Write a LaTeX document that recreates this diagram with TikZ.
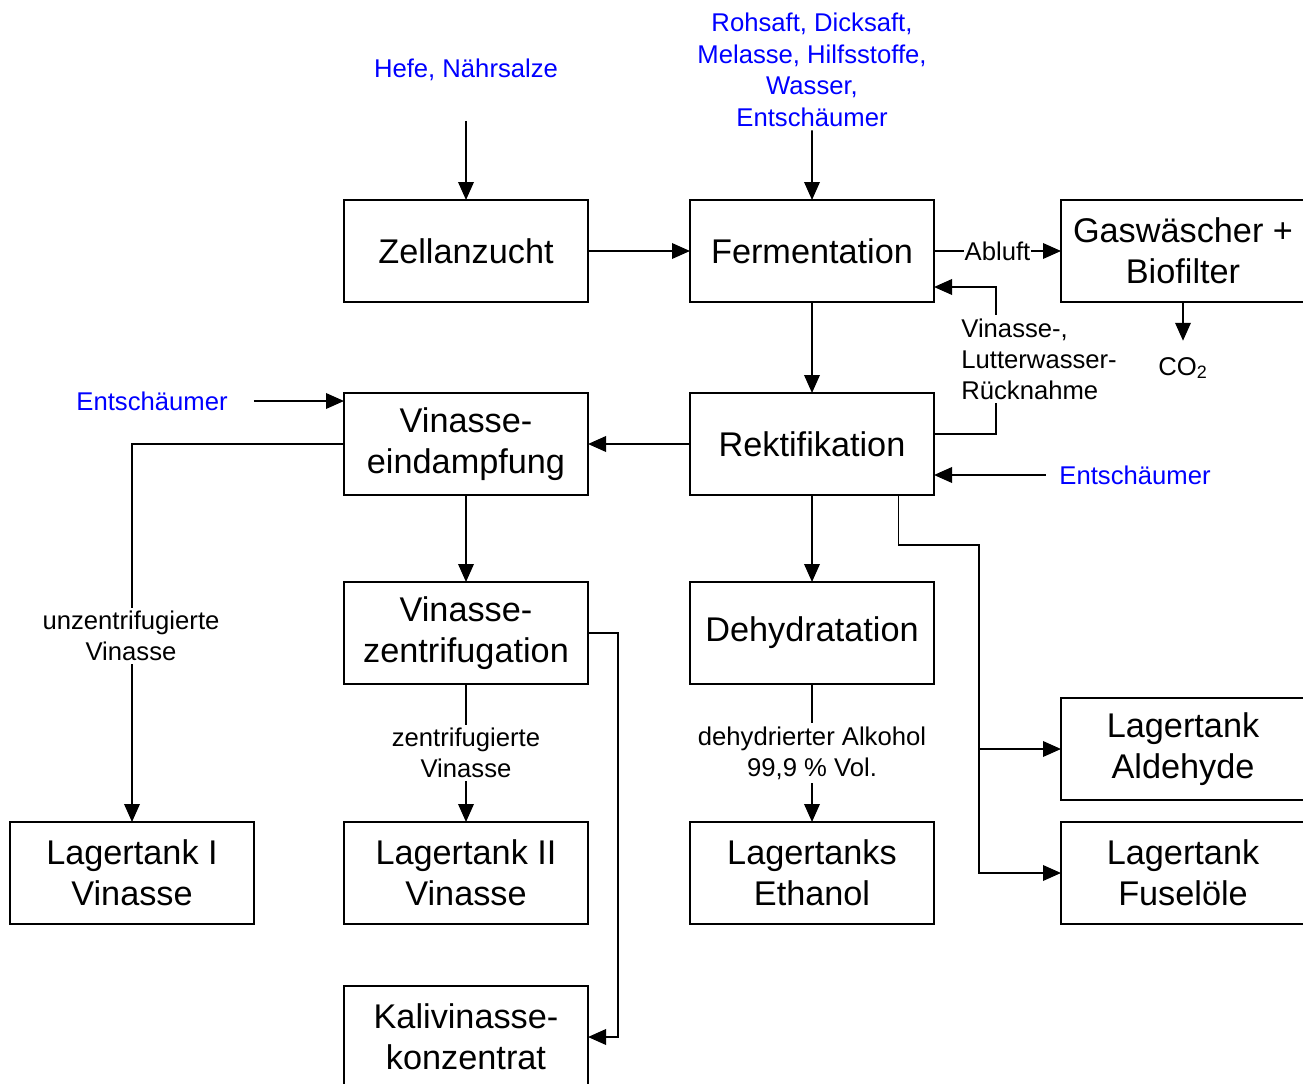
\documentclass[tikz,border=0pt]{standalone}
\usepackage{fontspec}
\setmainfont{Liberation Sans}
\usepackage{tikz}
\usetikzlibrary{positioning, arrows.meta}
\tikzset{
    stage/.style={rectangle, draw=black, line width=1.1pt, fill=white, align=center, minimum width=4.88cm, minimum height=2.04cm, inner sep=2pt, outer sep=0pt, font=\fontsize{19.5}{23.3}\selectfont},
    feed/.style={align=center, text=blue, inner sep=2pt, font=\fontsize{14.6}{17.9}\selectfont},
    note/.style={align=center, fill=white, inner sep=1pt, font=\fontsize{14.6}{17.6}\selectfont},
    arrow/.style={-{Triangle[length=0.36cm, width=0.31cm]}, line width=1.1pt}
}

\begin{document}
\begin{tikzpicture}
        \useasboundingbox (0,0) rectangle (26.06,-21.68);

        % Process stages
        \node[stage] (Zell) at (9.32,-5.02) {Zellanzucht};
        \node[stage, right=2.04cm of Zell] (Ferm) {Fermentation};
        \node[stage, right=2.54cm of Ferm] (Gas) {Gaswäscher +\\Biofilter};
        \node[stage, below=1.82cm of Ferm] (Rekt) {Rektifikation};
        \node[stage, left=2.04cm of Rekt] (Eind) {Vinasse-\\eindampfung};
        \node[stage, below=1.74cm of Eind] (Zentr) {Vinasse-\\zentrifugation};
        \node[stage, below=1.74cm of Rekt] (Dehyd) {Dehydratation};

        % Tanks
        \node[stage, below=2.76cm of Zentr] (LagerII) {Lagertank II\\Vinasse};
        \node[stage, left=1.8cm of LagerII] (LagerI) {Lagertank I\\Vinasse};
        \node[stage, below=2.76cm of Dehyd] (Ethanol) {Lagertanks\\Ethanol};
        \node[stage, right=2.54cm of Ethanol] (Fusel) {Lagertank\\Fuselöle};
        \node[stage, above=0.44cm of Fusel] (Aldeh) {Lagertank\\Aldehyde};
        \node[stage, below=1.24cm of LagerII] (Kali) {Kalivinasse-\\konzentrat};

        % Inputs
        \node[feed] (Hefe) at (9.32,-1.40) {Hefe, Nährsalze};
        \node[feed] (Rohsaft) at (16.24,-1.40) {Rohsaft, Dicksaft,\\Melasse, Hilfsstoffe,\\Wasser,\\Entschäumer};
        \node[feed] (EntsL) at (3.04,-8.02) {Entschäumer};
        \node[feed] (EntsR) at (22.70,-9.50) {Entschäumer};
        \node[font=\fontsize{14.6}{17.6}\selectfont, inner sep=2pt] (CO2) at (23.66,-7.36) {CO\textsubscript{2}};

        % Connections
        \draw[arrow] ([yshift=-0.72cm]Hefe.south) -- (Zell);
        \draw[arrow] (Rohsaft) -- (Ferm);
        \draw[arrow] (Zell) -- (Ferm);
        \draw[arrow] (Ferm) -- node[note, inner sep=0.5pt] (Abluft) {Abluft} (Gas);
        \draw[arrow] (Gas) -- ([yshift=0.25cm]CO2.north);
        \draw[arrow] (Ferm) -- (Rekt);

        % Recycle to fermentation
        \draw[arrow] ([yshift=0.2cm]Rekt.east) -- ++(1.24,0) |- ([yshift=-0.72cm]Ferm.east);
        \node[note, align=left, anchor=west, inner sep=2pt] (Rueck) at (19.15,-7.18) {Vinasse-,\\Lutterwasser-\\Rücknahme};

        \draw[arrow] (EntsR.west) ++(-0.2,0) -- (EntsR.west -| Rekt.east);
        \draw[arrow] (EntsL.east) ++(0.45,0) -- (EntsL.east -| Eind.west);
        \draw[arrow] (Rekt) -- (Eind);

        % Vinasse line
        \draw[arrow] (Eind.west) -| (LagerI.north);
        \node[note, inner sep=2pt] (Unzentr) at (2.62,-12.72) {unzentrifugierte\\Vinasse};
        \draw[arrow] (Eind) -- (Zentr);
        \draw[arrow] (Zentr) -- node[note, inner sep=2pt] (Zentrif) {zentrifugierte\\Vinasse} (LagerII);
        \draw[arrow] (Zentr.east) -- ++(0.6,0) |- (Kali.east);

        % Alcohol line
        \draw[arrow] (Rekt) -- (Dehyd);
        \draw[arrow] (Dehyd) -- node[note, inner sep=2pt] (Alkohol) {dehydrierter Alkohol\\99,9 \% Vol.} (Ethanol);
        \draw[arrow] ([xshift=1.73cm]Rekt.south) -- ++(0,-1.0) -| ([xshift=-1.64cm]Fusel.west) -- (Fusel.west);
        \draw[arrow] ([xshift=-1.64cm]Aldeh.west) -- (Aldeh.west);

    \end{tikzpicture}
\end{document}
